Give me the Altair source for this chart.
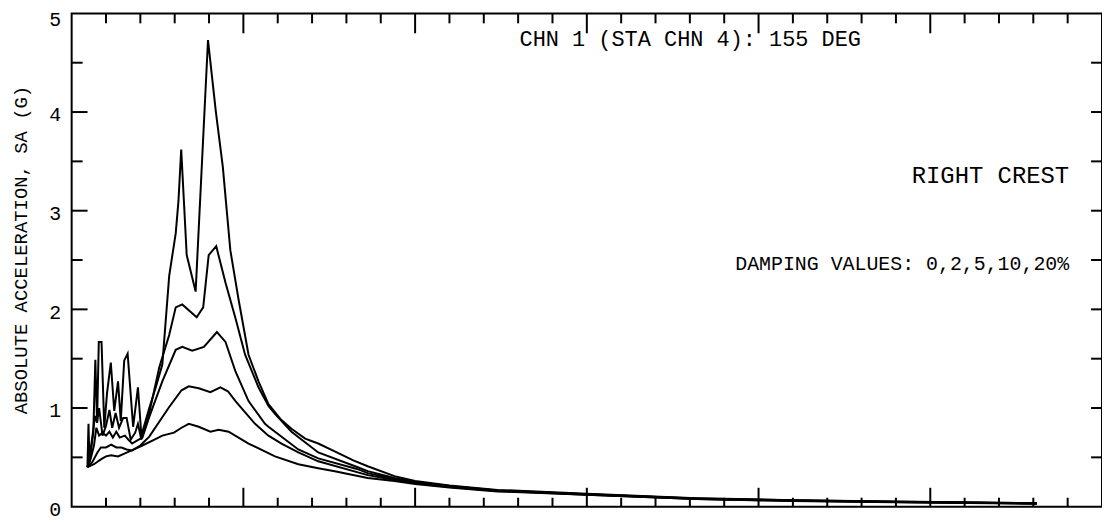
import altair as alt
import pandas as pd

# ---- data (period T in s, spectral acceleration in g) ----
t_0 = [0.046, 0.049, 0.052, 0.063, 0.069, 0.074, 0.079, 0.087, 0.095, 0.103, 0.114, 0.124,
       0.135, 0.143, 0.153, 0.163, 0.179, 0.193, 0.203, 0.226, 0.245, 0.264, 0.284, 0.303,
       0.311, 0.319, 0.335, 0.361, 0.397, 0.42, 0.44, 0.462, 0.486, 0.515, 0.544, 0.573,
       0.61, 0.64, 0.68, 0.718, 0.766, 0.82, 0.862, 0.94, 1.0, 1.1, 1.24, 1.5, 1.82, 2.1,
       2.4, 2.81]
sa_0 = [0.40, 0.84, 0.45, 0.75, 1.49, 0.85, 1.67, 1.67, 0.80, 1.15, 1.46, 0.97,
        1.27, 0.87, 1.48, 1.55, 0.81, 1.21, 0.72, 1.00, 1.21, 1.44, 2.34, 2.77,
        3.10, 3.62, 2.55, 2.18, 4.73, 4.00, 3.45, 2.60, 2.10, 1.54, 1.27, 1.04,
        0.88, 0.79, 0.69, 0.64, 0.56, 0.47, 0.41, 0.31, 0.26, 0.215, 0.17, 0.13, 0.085, 0.066,
        0.052, 0.036]

t_2 = [0.046, 0.052, 0.060, 0.068, 0.074, 0.080, 0.090, 0.100, 0.110, 0.118, 0.128, 0.138,
       0.150, 0.160, 0.172, 0.185, 0.193, 0.203, 0.226, 0.255, 0.284, 0.303, 0.322, 0.364,
       0.383, 0.399, 0.421, 0.448, 0.477, 0.505, 0.544, 0.573, 0.592, 0.64, 0.718, 0.833,
       0.862, 0.94, 1.0, 1.1, 1.24, 1.5, 1.82, 2.1, 2.4, 2.81]
sa_2 = [0.40, 0.50, 0.70, 0.92, 0.85, 1.00, 0.72, 0.82, 0.98, 0.80, 0.95, 0.80,
        0.90, 0.90, 0.68, 0.75, 0.84, 0.68, 0.95, 1.41, 1.74, 2.02, 2.05, 1.92,
        2.02, 2.55, 2.64, 2.27, 1.91, 1.54, 1.21, 1.02, 0.94, 0.76, 0.55, 0.40,
        0.36, 0.29, 0.25, 0.21, 0.165, 0.127, 0.083, 0.064, 0.050, 0.034]

t_5 = [0.046, 0.055, 0.065, 0.072, 0.080, 0.090, 0.100, 0.110, 0.120, 0.130, 0.140, 0.155,
       0.165, 0.176, 0.190, 0.206, 0.226, 0.264, 0.303, 0.322, 0.351, 0.385, 0.423, 0.448,
       0.477, 0.515, 0.563, 0.573, 0.66, 0.718, 0.833, 0.862, 0.94, 1.0, 1.1, 1.24, 1.5,
       1.82, 2.1, 2.4, 2.81]
sa_5 = [0.40, 0.48, 0.62, 0.80, 0.72, 0.75, 0.72, 0.76, 0.70, 0.76, 0.70, 0.72,
        0.68, 0.64, 0.67, 0.70, 0.91, 1.27, 1.59, 1.62, 1.58, 1.62, 1.77, 1.67,
        1.37, 1.07, 0.84, 0.81, 0.58, 0.49, 0.38, 0.34, 0.28, 0.245, 0.205, 0.162, 0.125,
        0.081, 0.062, 0.048, 0.033]

t_10 = [0.046, 0.060, 0.075, 0.085, 0.100, 0.115, 0.130, 0.145, 0.160, 0.176, 0.200, 0.226,
        0.284, 0.320, 0.341, 0.370, 0.404, 0.433, 0.455, 0.477, 0.534, 0.573, 0.611, 0.66,
        0.718, 0.862, 0.94, 1.0, 1.1, 1.24, 1.5, 1.82, 2.1, 2.4, 2.81]
sa_10 = [0.40, 0.45, 0.55, 0.60, 0.60, 0.63, 0.60, 0.60, 0.58, 0.57, 0.62, 0.71,
         1.01, 1.18, 1.22, 1.20, 1.16, 1.21, 1.17, 1.07, 0.84, 0.72, 0.64, 0.55,
         0.46, 0.32, 0.27, 0.24, 0.20, 0.16, 0.122, 0.079, 0.060, 0.047, 0.032]

t_20 = [0.046, 0.065, 0.085, 0.100, 0.115, 0.135, 0.155, 0.175, 0.206, 0.241, 0.264, 0.298,
        0.320, 0.341, 0.370, 0.404, 0.428, 0.457, 0.515, 0.592, 0.66, 0.718, 0.766, 0.862,
        0.94, 1.0, 1.1, 1.24, 1.5, 1.82, 2.1, 2.4, 2.81]
sa_20 = [0.40, 0.43, 0.48, 0.51, 0.52, 0.51, 0.54, 0.57, 0.62, 0.68, 0.72, 0.75,
         0.80, 0.84, 0.81, 0.76, 0.78, 0.76, 0.64, 0.51, 0.43, 0.39, 0.36, 0.29,
         0.26, 0.23, 0.195, 0.155, 0.12, 0.077, 0.058, 0.045, 0.030]

damping_labels = ["0%", "2%", "5%", "10%", "20%"]

y_label_values = [0, 1, 2, 3, 4, 5]
y_major_ticks = [1, 2, 3, 4]
y_minor_ticks = [0.5, 1.5, 2.5, 3.5, 4.5]
y_right_ticks = [0.5, 1, 1.5, 2, 2.5, 3, 3.5, 4, 4.5]
x_major_ticks = [0.5, 1.0, 1.5, 2.0, 2.5]
x_minor_ticks = [0.1, 0.2, 0.3, 0.4, 0.6, 0.7, 0.8, 0.9, 1.1, 1.2, 1.3, 1.4, 1.6, 1.7,
                 1.8, 1.9, 2.1, 2.2, 2.3, 2.4, 2.6, 2.7, 2.8, 2.9]

y_title = "ABSOLUTE ACCELERATION, SA (G)"
title_text = "CHN 1 (STA CHN 4): 155 DEG"
location_text = "RIGHT CREST"
damping_text = "DAMPING VALUES: 0,2,5,10,20%"

# ---- build tables ----
rows = []
for lab, ts, ss in zip(damping_labels, [t_0, t_2, t_5, t_10, t_20],
                       [sa_0, sa_2, sa_5, sa_10, sa_20]):
    for i, (t, s) in enumerate(zip(ts, ss)):
        rows.append({"T": t, "SA": s, "damping": lab, "i": i})
curves = pd.DataFrame(rows)

W, H = 1036, 496
FONT = "Liberation Mono"

xscale = alt.Scale(domain=[0, 3], nice=False, zero=False)
yscale = alt.Scale(domain=[0, 5], nice=False)
yaxis = alt.Axis(values=y_label_values, ticks=False, tickSize=0, domain=False,
                 grid=False, labelFont=FONT, labelFontSize=20, labelColor="black",
                 labelPadding=11, title=None, labelFlush=False,
                 labelOffset={"condition": {"test": "datum.value == 5", "value": 6},
                              "value": 3})

lines = alt.Chart(curves).mark_line(color="black", strokeWidth=2).encode(
    x=alt.X("T:Q", scale=xscale, axis=None),
    y=alt.Y("SA:Q", scale=yscale, axis=yaxis),
    detail="damping:N",
    order="i:Q",
)

def yticks(vals, x0, x1):
    return alt.Chart(pd.DataFrame({"v": vals})).mark_rule(color="black", strokeWidth=2).encode(
        y=alt.Y("v:Q", scale=yscale, axis=yaxis),
        x=alt.value(x0), x2=alt.value(x1))

def xticks(vals, y0, y1):
    return alt.Chart(pd.DataFrame({"v": vals})).mark_rule(color="black", strokeWidth=2).encode(
        x=alt.X("v:Q", scale=xscale, axis=None),
        y=alt.value(y0), y2=alt.value(y1))

ticks = [
    yticks(y_major_ticks, 0, 16),
    yticks(y_minor_ticks, 0, 11),
    yticks(y_right_ticks, W - 11, W),
    xticks(x_minor_ticks, 0, 10),
    xticks(x_major_ticks, 0, 20),
    xticks(x_minor_ticks, H, H - 9),
    xticks(x_major_ticks, H, H - 19),
]

def label(txt, x, y, size, align="center", angle=0):
    return alt.Chart(pd.DataFrame({"s": [txt]})).mark_text(
        font=FONT, fontSize=size, color="black", align=align, baseline="middle", angle=angle
    ).encode(text="s:N", x=alt.value(x), y=alt.value(y))

texts = [
    label(title_text, 622, 26, 22),
    label(location_text, 1003, 164, 24, align="right"),
    label(damping_text, 1003, 252, 20, align="right"),
    label(y_title, -51, 238, 19, angle=270),
]

chart = alt.layer(lines, *ticks, *texts).properties(
    width=W, height=H,
    autosize=alt.AutoSizeParams(type="none"),
    padding={"left": 64, "top": 4, "right": 0, "bottom": 15},
).configure(background="white").configure_view(stroke="black", strokeWidth=2)

chart.save("out.html", embed_options={"renderer": "svg", "actions": False})
